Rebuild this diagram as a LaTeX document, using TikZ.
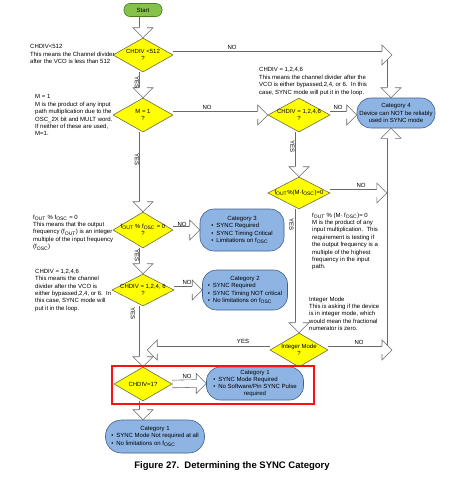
\documentclass[tikz,border=0pt]{standalone}
\usepackage{fontspec}
\setmainfont{Liberation Sans}
\usetikzlibrary{shapes.geometric,calc}
\pgfdeclarelayer{bg}
\pgfsetlayers{bg,main}
\definecolor{yfill}{HTML}{FFFF00}
\definecolor{dborder}{HTML}{6B6B4A}
\definecolor{bfill}{HTML}{8EB4E3}
\definecolor{bborder}{HTML}{3F5F8F}
\definecolor{gfill}{HTML}{86C24A}
\definecolor{gborder}{HTML}{4C7A24}
\definecolor{agray}{HTML}{6A6A6A}
\definecolor{hlred}{HTML}{FF1010}
\tikzset{
  dia/.style={diamond, draw=dborder, fill=yfill, line width=0.6pt, inner sep=0pt},
  dtext/.style={align=center, inner sep=0pt, font=\fontsize{6}{7.2}\selectfont},
  catbox/.style={rectangle, rounded corners=14pt, draw=bborder, fill=bfill, line width=0.6pt, inner sep=0pt, align=center, font=\fontsize{6}{7.2}\selectfont},
  startbox/.style={rectangle, rounded corners=6pt, draw=gborder, fill=gfill, line width=0.6pt, inner sep=0pt, minimum width=38pt, minimum height=13pt, font=\fontsize{6}{7}\selectfont},
  shaft/.style={draw=agray, line width=0.6pt, double=white, double distance=7pt},
  ahead/.style={draw=agray, fill=white, line width=0.6pt, line join=miter},
  note/.style={anchor=north west, align=left, inner sep=0pt, font=\fontsize{6}{7.4}\selectfont},
  lbl/.style={inner sep=0pt, font=\fontsize{6}{7}\selectfont},
  vlbl/.style={lbl, rotate=-90},
  hlbox/.style={rectangle, draw=hlred, line width=1.3pt, inner sep=0pt},
}
\newcommand\hdn[1]{\filldraw[ahead] ($(#1)+(-3.8,-10)$) -- ($(#1)+(-10,-10)$) -- (#1) -- ($(#1)+(10,-10)$) -- ($(#1)+(3.8,-10)$);}
\newcommand\hup[1]{\filldraw[ahead] ($(#1)+(-3.8,10)$) -- ($(#1)+(-10,10)$) -- (#1) -- ($(#1)+(10,10)$) -- ($(#1)+(3.8,10)$);}
\newcommand\hrt[1]{\filldraw[ahead] ($(#1)+(-10,-3.8)$) -- ($(#1)+(-10,-10)$) -- (#1) -- ($(#1)+(-10,10)$) -- ($(#1)+(-10,3.8)$);}
\newcommand\hlt[1]{\filldraw[ahead] ($(#1)+(10,-3.8)$) -- ($(#1)+(10,-10)$) -- (#1) -- ($(#1)+(10,10)$) -- ($(#1)+(10,3.8)$);}
\newcommand\osub[1]{\textsubscript{#1}}
\begin{document}
\begin{tikzpicture}[x=1pt,y=-1pt]
\useasboundingbox (0,0) rectangle (448,480);

% ---------- nodes ----------
\node[startbox] (start) at (143,10) {Start};

\node[dia, minimum width=60pt, minimum height=34pt] (d1) at (143,55) {};
\node[dtext] (d1t) at (d1) {CHDIV <512\\?};

\node[dia, minimum width=60pt, minimum height=34pt] (d2) at (143,115) {};
\node[dtext] (d2t) at (d2) {M = 1\\?};

\node[dia, minimum width=62pt, minimum height=34pt] (d2r) at (299,115) {};
\node[dtext] (d2rt) at (d2r) {CHDIV = 1,2,4,6\\?};

\node[dia, minimum width=62pt, minimum height=32pt] (d4r) at (299,193) {};
\node[dtext] (d4rt) at (d4r) {f\osub{OUT}\%(M·f\osub{OSC})=0};

\node[dia, minimum width=58pt, minimum height=34pt] (int) at (299,350) {};
\node[dtext] (intt) at (int) {Integer Mode\\?};

\node[dia, minimum width=60pt, minimum height=36pt] (d3) at (143,230) {};
\node[dtext] (d3t) at (d3) {f\osub{OUT} \% f\osub{OSC} = 0\\?};

\node[dia, minimum width=62pt, minimum height=32pt] (d5) at (143,290) {};
\node[dtext] (d5t) at (d5) {CHDIV = 1,2,4, 6\\?};

\node[dia, minimum width=58pt, minimum height=34pt] (d6) at (143,384) {};
\node[dtext] (d6t) at (d6) {CHDIV=1?};

\node[catbox, minimum width=78pt, minimum height=30pt] (cat4) at (396,113)
  {Category 4\\Device can NOT be reliably\\used in SYNC mode};

\node[catbox, minimum width=84pt, minimum height=42pt] (cat3) at (242,230)
  {\begin{tabular}{@{}l@{}}\multicolumn{1}{@{}c@{}}{Category 3}\\
   \textbullet\hspace{3pt}SYNC Required\\
   \textbullet\hspace{3pt}SYNC Timing Critical\\
   \textbullet\hspace{3pt}Limitations on f\osub{OSC}\end{tabular}};

\node[catbox, minimum width=85pt, minimum height=40pt] (cat2) at (245,290)
  {\begin{tabular}{@{}l@{}}\multicolumn{1}{@{}c@{}}{Category 2}\\
   \textbullet\hspace{3pt}SYNC Required\\
   \textbullet\hspace{3pt}SYNC Timing NOT critical\\
   \textbullet\hspace{3pt}No limitations on f\osub{OSC}\end{tabular}};

\node[catbox, minimum width=97pt, minimum height=33pt] (cat1m) at (255,383.5)
  {\begin{tabular}{@{}l@{}}\multicolumn{1}{@{}c@{}}{Category 1}\\
   \textbullet\hspace{3pt}SYNC Mode Required\\
   \textbullet\hspace{3pt}No Software/Pin SYNC Pulse\\
   \multicolumn{1}{@{}c@{}}{required}\end{tabular}};

\node[catbox, rounded corners=16pt, minimum width=99pt, minimum height=33pt] (cat1b) at (155,436.5)
  {\begin{tabular}{@{}l@{}}\multicolumn{1}{@{}c@{}}{Category 1}\\
   \textbullet\hspace{3pt}SYNC Mode Not required at all\\
   \textbullet\hspace{3pt}No limitations on f\osub{OSC}\end{tabular}};

\node[hlbox, minimum width=202pt, minimum height=38pt] (hl) at (213,385) {};

% ---------- notes ----------
\node[note] (n1) at (30,44.5) {CHDIV<512\\This means the Channel divider\\after the VCO is less than 512};
\node[note] (n2) at (35,94.5) {M = 1\\M is the product of any input\\path multiplication due to the\\OSC\_2X bit and MULT word.\\If neither of these are used,\\M=1.};
\node[note] (n3) at (33,214.5) {f\osub{OUT} \% f\osub{OSC} = 0\\This means that the output\\frequency (f\osub{OUT}) is an integer\\multiple of the input frequency\\(f\osub{OSC})};
\node[note] (n4) at (35,269) {CHDIV = 1,2,4,6\\This means the channel\\divider after the VCO is\\either bypassed,2,4, or 6.\ \ In\\this case, SYNC mode will\\put it in the loop.};
\node[note] (n5) at (259,67.5) {CHDIV = 1,2,4,6\\This means the channel divider after the\\VCO is either bypassed,2,4, or 6.\ \ In this\\case, SYNC mode will put it in the loop.};
\node[note] (n6) at (312,212.5) {f\osub{OUT} \% (M· f\osub{OSC})= 0\\M is the product of any\\input multiplication.\ \ This\\requirement is testing if\\the output frequency is a\\multiple of the highest\\frequency in the input\\path.};
\node[note] (n7) at (309,296.5) {Integer Mode\\This is asking if the device\\is in integer mode, which\\would mean the fractional\\numerator is zero.};

% ---------- caption ----------
\node[inner sep=0pt, font=\bfseries\fontsize{9.5}{11}\selectfont] (cap) at (232,466)
  {Figure 27.\ \ Determining the SYNC Category};

% ---------- helper coordinates ----------
\coordinate (c4n) at ($(cat4.north)+(-5,0)$);
\coordinate (c4s) at ($(cat4.south)+(-5,0)$);
\coordinate (c1top) at (d1.east -| c4n);
\coordinate (c1tip) at ($(c1top)+(1,0)$);
\coordinate (c4w) at (d2r.east -| cat4.west);
\coordinate (v1) at (d4r.east -| c4s);
\coordinate (v1tip) at ($(v1)+(-4.2,0)$);
\coordinate (v2) at (int.east -| c4s);
\coordinate (v2tip) at ($(v2)+(1,0)$);
\coordinate (v3) at (int.west -| d6.north);
\coordinate (v3tip) at ($(v3)+(4.2,0)$);
\coordinate (c1bn) at (d6.south |- cat1b.north);

% ---------- connectors ----------
\begin{pgfonlayer}{bg}
\draw[shaft] (start.south) -- ($(d1.north)+(0,-10)$); \hdn{d1.north}
\draw[shaft] ($(c1top)+(0,4.5)$) -- ($(c4n)+(0,-10)$); \hdn{c4n}
\draw[shaft] (d1.east) -- ($(c1tip)+(-10,0)$); \hrt{c1tip}
\draw[shaft] (d1.south) -- ($(d2.north)+(0,-10)$); \hdn{d2.north}
\draw[shaft] (d2.east) -- ($(d2r.west)+(-10,0)$); \hrt{d2r.west}
\draw[shaft] (d2r.east) -- ($(c4w)+(-10,0)$); \hrt{c4w}
\draw[shaft] (d2r.south) -- ($(d4r.north)+(0,-10)$); \hdn{d4r.north}
\draw[shaft] ($(v2)+(0,4.5)$) -- ($(c4s)+(0,10)$); \hup{c4s}
\draw[shaft] (d4r.east) -- ($(v1tip)+(-10,0)$); \hrt{v1tip}
\draw[shaft] (int.east) -- ($(v2tip)+(-10,0)$); \hrt{v2tip}
\draw[shaft] (d4r.south) -- ($(int.north)+(0,-10)$); \hdn{int.north}
\draw[shaft] (d2.south) -- ($(d3.north)+(0,-10)$); \hdn{d3.north}
\draw[shaft] (d3.east) -- ($(cat3.west)+(-10,0)$); \hrt{cat3.west}
\draw[shaft] (d3.south) -- ($(d5.north)+(0,-10)$); \hdn{d5.north}
\draw[shaft] (d5.east) -- ($(cat2.west)+(-10,0)$); \hrt{cat2.west}
\draw[shaft] (d5.south) -- ($(d6.north)+(0,-10)$); \hdn{d6.north}
\draw[shaft] (int.west) -- ($(v3tip)+(10,0)$); \hlt{v3tip}
\draw[shaft] (d6.east) -- ($(cat1m.west)+(-10,0)$); \hrt{cat1m.west}
\draw[shaft] (d6.south) -- ($(c1bn)+(0,-10)$); \hdn{c1bn}
\end{pgfonlayer}

% ---------- labels ----------
\node[lbl] (no1) at (232,47) {NO};
\node[lbl] (no2) at (207,107) {NO};
\node[lbl] (no3) at (338,107.5) {NO};
\node[lbl] (no4) at (361,185.5) {NO};
\node[lbl] (no5) at (359,342.5) {NO};
\node[lbl] (no6) at (182,224) {NO};
\node[lbl] (no7) at (187,282.5) {NO};
\node[lbl] (no8) at (187,376) {NO};
\node[lbl] (yes8) at (243,341.5) {YES};
\node[vlbl] (yes1) at (137,82) {YES};
\node[vlbl] (yes2) at (137,159) {YES};
\node[vlbl] (yes3) at (292.5,146) {YES};
\node[vlbl] (yes4) at (291.5,224) {YES};
\node[vlbl] (yes5) at (137,255) {YES};
\node[vlbl] (yes6) at (133,313) {YES};
\end{tikzpicture}
\end{document}
